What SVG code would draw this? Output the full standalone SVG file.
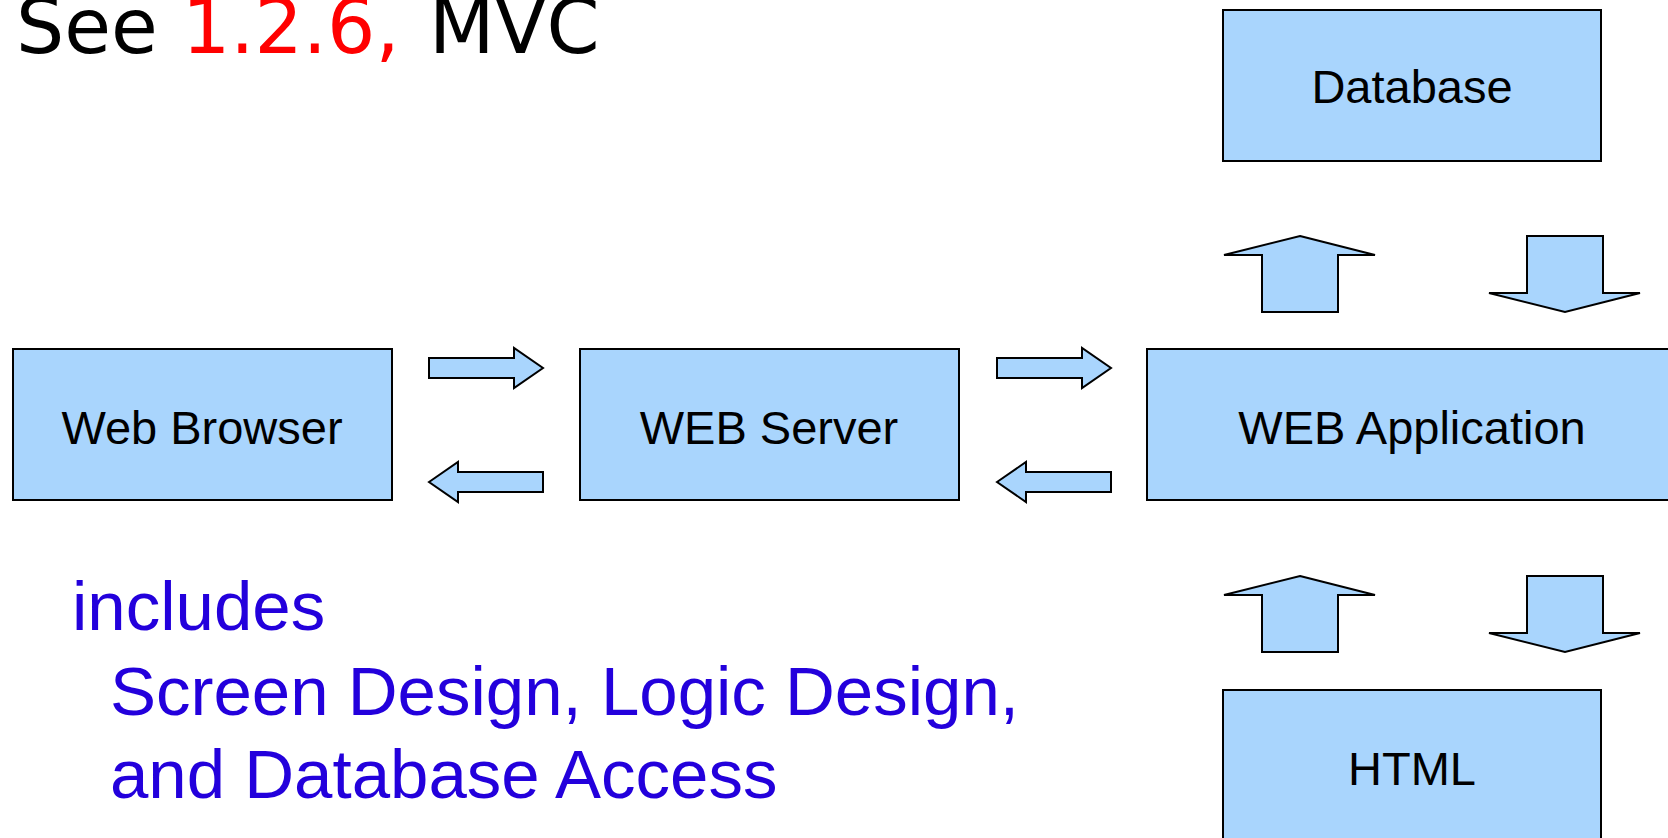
<svg xmlns="http://www.w3.org/2000/svg" width="1668" height="838" viewBox="0 0 1668 838">
<style>
.box{fill:#A9D5FD;stroke:#000;stroke-width:2}
.arr{fill:#A9D5FD;stroke:#000;stroke-width:2;stroke-linejoin:miter}
.lbl{font-family:"Liberation Sans",Arial,sans-serif;font-size:47px;fill:#000;text-anchor:middle}
.blue{font-family:"Liberation Sans",Arial,sans-serif;font-size:69px;fill:#2300DC}
.title{font-family:"DejaVu Sans",Verdana,sans-serif;font-size:76px;fill:#000}
</style>
<rect width="1668" height="838" fill="#fff"/>
<text class="title" x="16" y="53">See <tspan x="182" fill="#FF0000">1.2.6,</tspan> <tspan x="429">MVC</tspan></text>
<g id="database"><rect class="box" x="1223" y="10" width="378" height="151"/><text class="lbl" x="1412" y="103">Database</text></g>
<g id="web-browser"><rect class="box" x="13" y="349" width="379" height="151"/><text class="lbl" x="202" y="444">Web Browser</text></g>
<g id="web-server"><rect class="box" x="580" y="349" width="379" height="151"/><text class="lbl" x="769" y="444">WEB Server</text></g>
<g id="web-application"><rect class="box" x="1147" y="349" width="532" height="151"/><text class="lbl" x="1412" y="444">WEB Application</text></g>
<g id="html"><rect class="box" x="1223" y="690" width="378" height="160"/><text class="lbl" x="1412" y="785">HTML</text></g>
<g id="connectors">
<polygon class="arr" points="429,358 514,358 514,348 543,368 514,388 514,378 429,378"/>
<polygon class="arr" points="429,482 458,462 458,472 543,472 543,492 458,492 458,502"/>
<polygon class="arr" points="997,358 1082,358 1082,348 1111,368 1082,388 1082,378 997,378"/>
<polygon class="arr" points="997,482 1026,462 1026,472 1111,472 1111,492 1026,492 1026,502"/>
<polygon class="arr" points="1300,236 1375,255 1338,255 1338,312 1262,312 1262,255 1224,255"/>
<polygon class="arr" points="1527,236 1603,236 1603,293 1640,293 1565,312 1489,293 1527,293"/>
<polygon class="arr" points="1300,576 1375,595 1338,595 1338,652 1262,652 1262,595 1224,595"/>
<polygon class="arr" points="1527,576 1603,576 1603,633 1640,633 1565,652 1489,633 1527,633"/>
</g>
<text class="blue" x="72" y="630">includes</text>
<text class="blue" x="110" y="715">Screen Design, Logic Design,</text>
<text class="blue" x="110" y="798">and Database Access</text>
</svg>
